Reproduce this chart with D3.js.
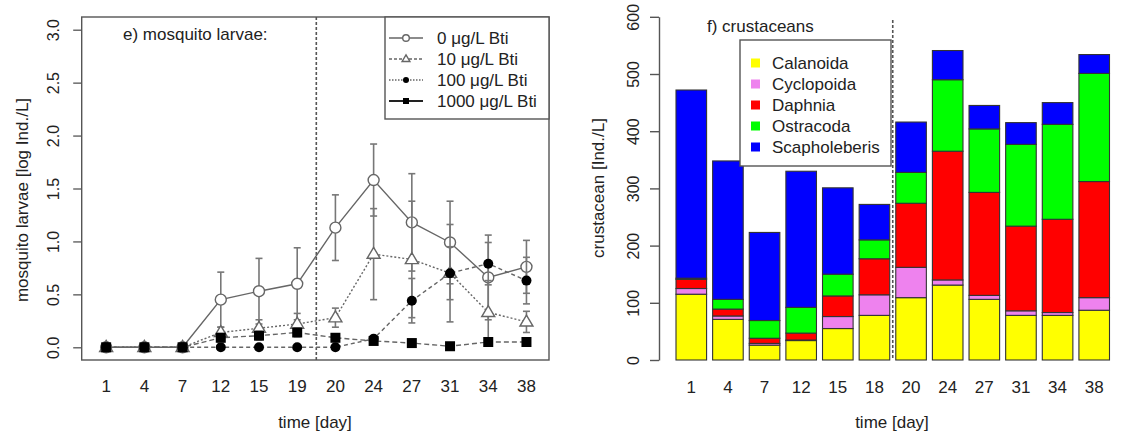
<!DOCTYPE html>
<html>
<head>
<meta charset="utf-8">
<script src="https://cdn.jsdelivr.net/npm/d3@7"></script>
<style>
  body { margin: 0; background: #fff; }
  text { font-family: "Liberation Sans", Arial, sans-serif; fill: #222; }
</style>
</head>
<body>
<svg id="chart"></svg>
<script>
// ---- data: mosquito larvae (log Ind./L) ----
const days = ["1", "4", "7", "12", "15", "19", "20", "24", "27", "31", "34", "38"];
const bti0 = [0, 0, 0, 0.45, 0.53, 0.60, 1.13, 1.58, 1.18, 0.99, 0.66, 0.76];
const bti0Err = [0, 0, 0, 0.26, 0.31, 0.34, 0.31, 0.34, 0.46, 0.39, 0.40, 0.25];
const bti10 = [0, 0, 0, 0.14, 0.18, 0.22, 0.28, 0.88, 0.83, 0.70, 0.33, 0.24];
const bti10Err = [0, 0, 0, 0.05, 0.08, 0.10, 0.09, 0.43, 0.55, 0.46, 0.30, 0.10];
const bti100 = [0, 0, 0, 0, 0, 0, 0, 0.08, 0.44, 0.70, 0.79, 0.63];
const bti100Err = [0, 0, 0, 0, 0, 0, 0, 0.03, 0.21, 0.25, 0.20, 0.22];
const bti1000 = [0, 0, 0, 0.09, 0.11, 0.14, 0.09, 0.06, 0.04, 0.01, 0.05, 0.05];
const bti1000Err = [0, 0, 0, 0.04, 0.04, 0.04, 0.03, 0.02, 0.02, 0.02, 0.02, 0.02];
const larvaeTicks = [0, 0.5, 1, 1.5, 2, 2.5, 3];

// ---- data: crustaceans (Ind./L) ----
const crustDays = ["1", "4", "7", "12", "15", "18", "20", "24", "27", "31", "34", "38"];
const taxa = ["Calanoida", "Cyclopoida", "Daphnia", "Ostracoda", "Scapholeberis"];
const calanoida = [115, 71, 26, 34, 55, 78, 109, 131, 106, 78, 78, 87];
const cyclopoida = [10, 6, 3, 1, 21, 36, 53, 9, 7, 8, 5, 22];
const daphnia = [16, 12, 9, 12, 36, 63, 112, 225, 180, 148, 163, 203];
const ostracoda = [2, 17, 31, 45, 38, 33, 54, 125, 111, 143, 166, 189];
const scapholeberis = [329, 242, 154, 238, 151, 62, 88, 51, 41, 38, 38, 33];
const crustTicks = [0, 100, 200, 300, 400, 500, 600];
const taxaColors = ["#ffff00", "#ee82ee", "#ff0000", "#00ff00", "#0000ff"];

const svg = d3.select("#chart")
  .attr("width", 1121)
  .attr("height", 432);

// ================= left panel =================
const xL = d3.scaleLinear().domain([-0.64, 11.59]).range([81.7, 549]);
const yL = d3.scaleLinear().domain([-0.12, 3.12]).range([360, 17]);

const left = svg.append("g");

left.append("g")
  .attr("transform", "translate(81.7,0)")
  .call(d3.axisLeft(yL).tickValues(larvaeTicks).tickSize(8.5).tickSizeOuter(0)
    .tickFormat(d3.format(".1f")))
  .call(g => g.select(".domain").remove())
  .call(g => g.selectAll("line").attr("stroke", "#555").attr("stroke-width", 1.3))
  .call(g => g.selectAll("text")
    .attr("transform", "rotate(-90)")
    .attr("x", 0).attr("y", -28.5).attr("dy", "0.35em")
    .attr("text-anchor", "middle")
    .style("font-size", "16px"));

left.selectAll(".xlab")
  .data(days)
  .enter()
  .append("text")
  .attr("x", (d, i) => xL(i))
  .attr("y", 392)
  .attr("text-anchor", "middle")
  .style("font-size", "17px")
  .text(d => d);

// vertical separator between day 19 and 20
left.append("line")
  .attr("x1", xL(5.5)).attr("x2", xL(5.5))
  .attr("y1", 17).attr("y2", 360)
  .attr("stroke", "#555")
  .attr("stroke-width", 1.6)
  .attr("stroke-dasharray", "3,2");

const larvae = [
  { name: "0 μg/L Bti", values: bti0, err: bti0Err, dash: null, shape: "circleOpen" },
  { name: "10 μg/L Bti", values: bti10, err: bti10Err, dash: "2,2", shape: "triangle" },
  { name: "100 μg/L Bti", values: bti100, err: bti100Err, dash: "4,3", shape: "circle" },
  { name: "1000 μg/L Bti", values: bti1000, err: bti1000Err, dash: "5,3", shape: "square" }
];

function drawMarker(g, shape, x, y, s) {
  if (shape === "circleOpen") {
    g.append("circle").attr("cx", x).attr("cy", y).attr("r", 5.5 * s)
      .attr("fill", "#fff").attr("stroke", "#666").attr("stroke-width", 1.4);
  } else if (shape === "triangle") {
    const h = 11 * s, w = 13 * s;
    g.append("path")
      .attr("d", `M${x},${y - h * 0.62}L${x + w / 2},${y + h * 0.38}L${x - w / 2},${y + h * 0.38}Z`)
      .attr("fill", "#fff").attr("stroke", "#666").attr("stroke-width", 1.4);
  } else if (shape === "circle") {
    g.append("circle").attr("cx", x).attr("cy", y).attr("r", 5 * s).attr("fill", "#000");
  } else {
    g.append("rect").attr("x", x - 5 * s).attr("y", y - 5 * s)
      .attr("width", 10 * s).attr("height", 10 * s).attr("fill", "#000");
  }
}

larvae.forEach(s => {
  const g = left.append("g");
  // error bars
  s.values.forEach((v, i) => {
    if (s.err[i] <= 0) return;
    const x = xL(i);
    g.append("line").attr("x1", x).attr("x2", x)
      .attr("y1", yL(v - s.err[i])).attr("y2", yL(v + s.err[i]))
      .attr("stroke", "#777").attr("stroke-width", 1.6);
    [v - s.err[i], v + s.err[i]].forEach(e => {
      g.append("line").attr("x1", x - 3.5).attr("x2", x + 3.5)
        .attr("y1", yL(e)).attr("y2", yL(e))
        .attr("stroke", "#777").attr("stroke-width", 1.6);
    });
  });
  g.append("path")
    .datum(s.values)
    .attr("d", d3.line().x((d, i) => xL(i)).y(d => yL(d)))
    .attr("fill", "none")
    .attr("stroke", "#666")
    .attr("stroke-width", 1.4)
    .attr("stroke-dasharray", s.dash);
  s.values.forEach((v, i) => drawMarker(g, s.shape, xL(i), yL(v), 1));
});

left.append("rect")
  .attr("x", 81.7).attr("y", 17)
  .attr("width", 549 - 81.7).attr("height", 343)
  .attr("fill", "none").attr("stroke", "#555").attr("stroke-width", 1.4);

left.append("text")
  .attr("x", 123).attr("y", 40)
  .style("font-size", "17px")
  .text("e) mosquito larvae:");

// legend
const legL = left.append("g");
legL.append("rect")
  .attr("x", 385).attr("y", 17).attr("width", 164).attr("height", 102)
  .attr("fill", "#fff").attr("stroke", "#555").attr("stroke-width", 1.4);
const legDash = [null, "3,2", "1.5,1.5", null];
larvae.forEach((s, i) => {
  const y = 38 + i * 21;
  legL.append("line")
    .attr("x1", 389).attr("x2", 423).attr("y1", y).attr("y2", y)
    .attr("stroke", i === 3 ? "#222" : "#666")
    .attr("stroke-width", i === 3 ? 2 : 1.3)
    .attr("stroke-dasharray", legDash[i]);
  drawMarker(legL, s.shape, 406, y, 0.6);
  legL.append("text")
    .attr("x", 437).attr("y", y).attr("dy", "0.35em")
    .style("font-size", "17px")
    .text(s.name);
});

left.append("text")
  .attr("x", 315).attr("y", 428)
  .attr("text-anchor", "middle")
  .style("font-size", "17px")
  .text("time [day]");

left.append("text")
  .attr("transform", "rotate(-90)")
  .attr("x", -200).attr("y", 22)
  .attr("dy", "0.35em")
  .attr("text-anchor", "middle")
  .style("font-size", "17px")
  .text("mosquito larvae [log Ind./L]");

// ================= right panel =================
const xR = d3.scaleBand().domain(crustDays).range([676, 1109.5])
  .paddingInner(0.165).paddingOuter(0);
const yR = d3.scaleLinear().domain([0, 600]).range([360, 16.8]);

const right = svg.append("g");

const crustTable = crustDays.map((d, i) => ({
  day: d,
  Calanoida: calanoida[i],
  Cyclopoida: cyclopoida[i],
  Daphnia: daphnia[i],
  Ostracoda: ostracoda[i],
  Scapholeberis: scapholeberis[i]
}));
const stacked = d3.stack().keys(taxa)(crustTable);

right.selectAll(".layer")
  .data(stacked)
  .enter()
  .append("g")
  .attr("fill", (d, i) => taxaColors[i])
  .selectAll("rect")
  .data(d => d)
  .enter()
  .append("rect")
  .attr("x", d => xR(d.data.day))
  .attr("y", d => yR(d[1]))
  .attr("width", xR.bandwidth())
  .attr("height", d => yR(d[0]) - yR(d[1]))
  .attr("stroke", "#333")
  .attr("stroke-width", 1.1);

right.append("g")
  .attr("transform", "translate(659,0)")
  .call(d3.axisLeft(yR).tickValues(crustTicks).tickSize(9).tickSizeOuter(0))
  .call(g => g.select(".domain").attr("stroke", "#555").attr("stroke-width", 1.4))
  .call(g => g.selectAll("line").attr("stroke", "#555").attr("stroke-width", 1.4))
  .call(g => g.selectAll("text")
    .attr("transform", "rotate(-90)")
    .attr("x", 0).attr("y", -26).attr("dy", "0.35em")
    .attr("text-anchor", "middle")
    .style("font-size", "16px"));

right.selectAll(".xlab")
  .data(crustDays)
  .enter()
  .append("text")
  .attr("x", d => xR(d) + xR.bandwidth() / 2)
  .attr("y", 393)
  .attr("text-anchor", "middle")
  .style("font-size", "17px")
  .text(d => d);

const sepX = (xR("18") + xR.bandwidth() + xR("20")) / 2;
right.append("line")
  .attr("x1", sepX).attr("x2", sepX)
  .attr("y1", 20).attr("y2", 360)
  .attr("stroke", "#555")
  .attr("stroke-width", 1.6)
  .attr("stroke-dasharray", "3,2");

right.append("text")
  .attr("x", 707).attr("y", 32)
  .style("font-size", "17px")
  .text("f) crustaceans");

const legR = right.append("g");
legR.append("rect")
  .attr("x", 740).attr("y", 40).attr("width", 151).attr("height", 126)
  .attr("fill", "#fff").attr("stroke", "#555").attr("stroke-width", 1.4);
taxa.forEach((t, i) => {
  const y = 63 + i * 21;
  legR.append("rect")
    .attr("x", 751).attr("y", y - 4.5).attr("width", 9).attr("height", 9)
    .attr("fill", taxaColors[i]);
  legR.append("text")
    .attr("x", 772).attr("y", y).attr("dy", "0.35em")
    .style("font-size", "17px")
    .text(t);
});

right.append("text")
  .attr("x", 892).attr("y", 428)
  .attr("text-anchor", "middle")
  .style("font-size", "17px")
  .text("time [day]");

right.append("text")
  .attr("transform", "rotate(-90)")
  .attr("x", -188).attr("y", 598)
  .attr("dy", "0.35em")
  .attr("text-anchor", "middle")
  .style("font-size", "17px")
  .text("crustacean [Ind./L]");
</script>
</body>
</html>
